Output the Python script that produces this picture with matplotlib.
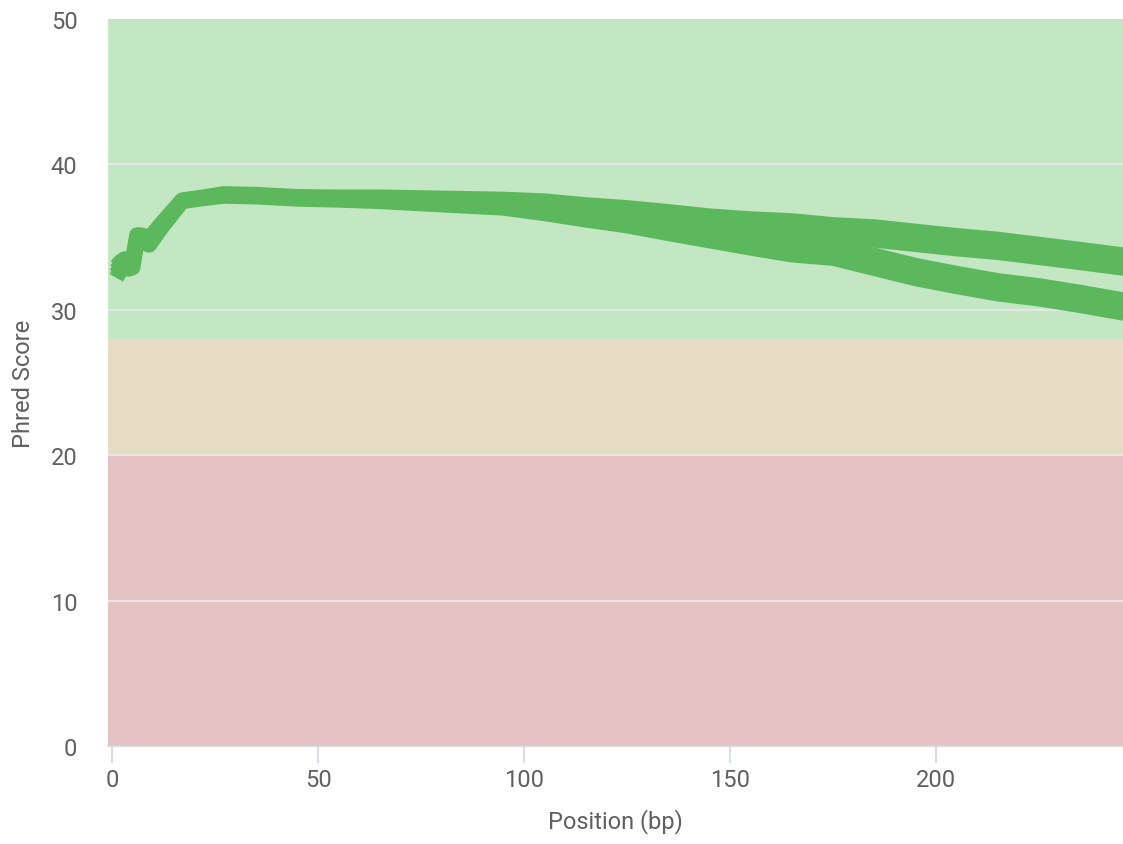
import matplotlib.pyplot as plt

plt.rcParams['font.family'] = ['Roboto', 'DejaVu Sans']

# positions (bp) and mean phred score per sample
position = [1, 2, 3, 4, 5, 6, 7, 8, 9, 12, 17, 22, 27, 35, 45, 55, 65, 75, 85, 95,
            105, 115, 125, 135, 145, 155, 165, 175, 185, 195, 205, 215, 225, 235, 246]

sample_u1 = [33.0, 33.3, 33.5, 33.4, 33.5, 35.15, 35.15, 35.05, 34.95, 35.95, 37.55, 37.75, 37.98,
             37.93, 37.78, 37.75, 37.75, 37.7, 37.65, 37.6, 37.48, 37.22, 37.02, 36.75, 36.45,
             36.25, 36.12, 35.85, 35.7, 35.4, 35.1, 34.85, 34.5, 34.15, 33.75]
sample_u2 = [32.73, 33.1, 33.3, 33.2, 33.3, 34.98, 34.98, 34.88, 34.78, 35.85, 37.52, 37.72, 37.93,
             37.88, 37.73, 37.68, 37.65, 37.57, 37.48, 37.4, 37.19, 36.88, 36.61, 36.25, 35.88,
             35.58, 35.34, 35.05, 34.8, 34.5, 34.2, 33.95, 33.6, 33.25, 32.85]
sample_l1 = [32.47, 32.9, 33.1, 33.0, 33.1, 34.82, 34.82, 34.72, 34.62, 35.75, 37.48, 37.68, 37.87,
             37.82, 37.67, 37.62, 37.55, 37.43, 37.32, 37.2, 36.91, 36.52, 36.19, 35.75, 35.32,
             34.92, 34.56, 34.25, 33.75, 33.05, 32.5, 32.0, 31.65, 31.2, 30.65]
sample_l2 = [32.2, 32.7, 32.9, 32.8, 32.9, 34.65, 34.65, 34.55, 34.45, 35.65, 37.45, 37.65, 37.82,
             37.77, 37.62, 37.55, 37.45, 37.3, 37.15, 37.0, 36.62, 36.18, 35.78, 35.25, 34.75,
             34.25, 33.78, 33.55, 32.85, 32.15, 31.6, 31.1, 30.75, 30.3, 29.75]

samples = [sample_u1, sample_u2, sample_l1, sample_l2]

fig = plt.figure(figsize=(11.23, 8.45), dpi=100)
ax = fig.add_axes([0.0962, 0.116, 0.9038, 0.8603])

# quality zones
ax.axhspan(28, 50, color='#c3e6c3', lw=0, zorder=0)
ax.axhspan(20, 28, color='#e6dcc3', lw=0, zorder=0)
ax.axhspan(0, 20, color='#e6c3c3', lw=0, zorder=0)

for y in [10, 20, 30, 40]:
    ax.axhline(y, color='#e6e6e6', lw=1.5, zorder=1)

for s in samples:
    ax.plot(position, s, color='#5cb85c', lw=11, solid_joinstyle='round',
            solid_capstyle='butt', zorder=2)

ax.set_xlim(-1, 245.4)
ax.set_ylim(0, 50)
ax.set_yticks([0, 10, 20, 30, 40, 50])
ax.set_xticks([0, 50, 100, 150, 200])

for side in ['top', 'right', 'left']:
    ax.spines[side].set_visible(False)
ax.spines['bottom'].set_color('#ccd6eb')
ax.spines['bottom'].set_linewidth(1.2)

ax.tick_params(axis='y', length=0, pad=22, labelsize=17, labelcolor='#606060')
ax.tick_params(axis='x', length=12, width=1.2, color='#ccd6eb', pad=4,
               labelsize=17, labelcolor='#606060')

ax.set_xlabel('Position (bp)', fontsize=17, color='#606060', labelpad=12)
ax.set_ylabel('Phred Score', fontsize=17, color='#606060')
ax.yaxis.set_label_coords(-0.072, 0.5)

fig.savefig('out.png', dpi=100)
